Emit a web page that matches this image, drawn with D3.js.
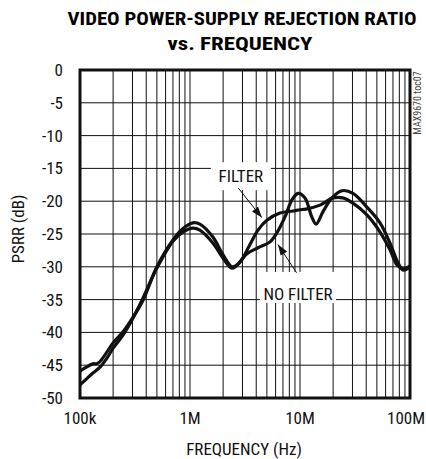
<!DOCTYPE html>
<html><head><meta charset="utf-8">
<script src="https://cdn.jsdelivr.net/npm/d3@7"></script>
<style>
html,body{margin:0;padding:0;background:#fff;}
svg{display:block;}
text{font-family:"Liberation Sans Narrow","Arial Narrow","Roboto Condensed","Liberation Sans",sans-serif;}
</style></head>
<body>
<svg id="chart" width="426" height="459"></svg>
<script>
const titleLines = ["VIDEO POWER-SUPPLY REJECTION RATIO", "vs. FREQUENCY"];
const xTickValues = [1e5, 1e6, 1e7, 1e8];
const xTickLabels = ["100k", "1M", "10M", "100M"];
const yTickValues = [0, -5, -10, -15, -20, -25, -30, -35, -40, -45, -50];
const yTickLabels = ["0", "-5", "-10", "-15", "-20", "-25", "-30", "-35", "-40", "-45", "-50"];

// NO FILTER series: frequency (Hz) and PSRR (dB)
const noFilterFreq = [1.0e5, 1.11e5, 1.31e5, 1.46e5, 2.0e5, 2.46e5, 3.03e5, 3.74e5, 5.0e5, 7.0e5, 8.6e5, 1.06e6, 1.23e6, 1.62e6, 2.0e6, 2.41e6, 2.67e6, 3.3e6, 4.15e6, 5.34e6, 6.18e6, 7.3e6, 8.45e6, 9.6e6, 1.11e7, 1.28e7, 1.40e7, 1.62e7, 1.95e7, 2.41e7, 3.03e7, 4.06e7, 5.34e7, 6.58e7, 7.78e7, 8.63e7, 9.6e7, 1.0e8];
const noFilterDb = [-45.9, -45.4, -44.8, -44.7, -41.6, -39.9, -37.7, -35.1, -30.0, -25.9, -24.2, -23.3, -23.5, -25.5, -28.2, -30.0, -29.7, -28.0, -27.1, -26.2, -24.8, -22.4, -19.8, -18.8, -19.5, -22.4, -23.5, -21.6, -19.5, -18.4, -18.8, -20.9, -23.3, -26.4, -29.4, -30.5, -30.2, -29.8];

// FILTER series
const filterFreq = [1.0e5, 1.16e5, 1.31e5, 1.52e5, 1.76e5, 2.0e5, 2.46e5, 2.97e5, 3.66e5, 5.0e5, 7.0e5, 8.6e5, 1.06e6, 1.23e6, 1.62e6, 2.0e6, 2.41e6, 2.85e6, 3.51e6, 4.15e6, 5.0e6, 6.58e6, 8.63e6, 1.0e7, 1.13e7, 1.52e7, 2.0e7, 2.45e7, 3.03e7, 4.06e7, 5.34e7, 6.58e7, 7.62e7, 8.63e7, 1.0e8];
const filterDb = [-48.0, -47.0, -46.2, -45.3, -43.9, -42.4, -40.4, -38.1, -35.1, -30.2, -26.1, -24.7, -24.1, -24.4, -26.4, -28.7, -30.2, -29.3, -26.6, -24.4, -22.9, -21.8, -21.5, -21.3, -21.2, -20.6, -19.5, -19.5, -20.3, -22.1, -24.7, -27.4, -29.7, -30.3, -29.9];

const svg = d3.select("#chart");
const x = d3.scaleLog().domain([1e5, 1e8]).range([80, 410]);
const y = d3.scaleLinear().domain([-50, 0]).range([398, 70]);

// Title
svg.append("text").attr("x", 242).attr("y", 25).attr("text-anchor", "middle")
  .attr("font-size", 19).attr("font-weight", "bold")
  .attr("textLength", 349).attr("lengthAdjust", "spacingAndGlyphs")
  .text(titleLines[0]);
svg.append("text").attr("x", 240).attr("y", 50).attr("text-anchor", "middle")
  .attr("font-size", 19).attr("font-weight", "bold")
  .attr("textLength", 145).attr("lengthAdjust", "spacingAndGlyphs")
  .text(titleLines[1]);

// Grid
const grid = svg.append("g");
const minor = [];
for (let d = 1e5; d < 1e8; d *= 10) for (let m = 2; m <= 9; m++) minor.push(d * m);
minor.push(1e6, 1e7);
grid.selectAll("line.v").data(minor).join("line")
  .attr("x1", d => x(d)).attr("x2", d => x(d)).attr("y1", y(0)).attr("y2", y(-50))
  .attr("stroke", "#111").attr("stroke-width", 1);
grid.selectAll("line.h").data(yTickValues.filter(v => v !== 0 && v !== -50)).join("line")
  .attr("x1", x(1e5)).attr("x2", x(1e8)).attr("y1", d => y(d)).attr("y2", d => y(d))
  .attr("stroke", "#111").attr("stroke-width", 1);

// Annotation boxes (white knockouts)
function label(txt, f, db, w, top, bottom) {
  const cx = x(f), by = y(db);
  svg.append("rect").attr("x", cx - w / 2).attr("y", by - top).attr("width", w).attr("height", top + bottom).attr("fill", "#fff");
  svg.append("text").attr("x", cx).attr("y", by).attr("text-anchor", "middle")
    .attr("font-size", 17).attr("fill", "#111").text(txt);
}
label("FILTER", 2.9e6, -17.1, 60, 20, 8);
label("NO FILTER", 9.6e6, -35.05, 76, 28, 3);

// Curves
const line = d3.line().x(d => x(d[0])).y(d => y(d[1])).curve(d3.curveCatmullRom.alpha(0.5));
svg.append("path").datum(noFilterFreq.map((f, i) => [f, noFilterDb[i]]))
  .attr("d", line).attr("fill", "none").attr("stroke", "#111").attr("stroke-width", 3.2).attr("stroke-linejoin", "round");
svg.append("path").datum(filterFreq.map((f, i) => [f, filterDb[i]]))
  .attr("d", line).attr("fill", "none").attr("stroke", "#111").attr("stroke-width", 3.2).attr("stroke-linejoin", "round");

// Arrows
svg.append("defs").append("marker").attr("id", "ah").attr("viewBox", "0 0 10 10")
  .attr("refX", 10).attr("refY", 5).attr("markerWidth", 11).attr("markerHeight", 11)
  .attr("markerUnits", "userSpaceOnUse").attr("orient", "auto")
  .append("path").attr("d", "M0,1.5 L10,5 L0,8.5 Z").attr("fill", "#111");
function arrow(f1, d1, f2, d2) {
  svg.append("line").attr("x1", x(f1)).attr("y1", y(d1)).attr("x2", x(f2)).attr("y2", y(d2))
    .attr("stroke", "#111").attr("stroke-width", 1).attr("marker-end", "url(#ah)");
}
arrow(2.75e6, -18.0, 4.5e6, -22.5);
arrow(9.3e6, -30.9, 6.3e6, -26.6);

// Frame
svg.append("rect").attr("x", x(1e5)).attr("y", y(0)).attr("width", x(1e8) - x(1e5)).attr("height", y(-50) - y(0))
  .attr("fill", "none").attr("stroke", "#111").attr("stroke-width", 3);

// Y tick labels
svg.selectAll("text.yt").data(yTickValues).join("text")
  .attr("x", 63).attr("y", d => y(d) + 6).attr("text-anchor", "end")
  .attr("font-size", 17).attr("fill", "#111").text((d, i) => yTickLabels[i]);
// X tick labels
svg.selectAll("text.xt").data(xTickValues).join("text")
  .attr("x", (d, i) => i === 3 ? x(d) - 4 : x(d)).attr("y", 424).attr("text-anchor", "middle")
  .attr("font-size", 17).attr("fill", "#111").text((d, i) => xTickLabels[i]);

// Axis titles
svg.append("text").attr("x", 244).attr("y", 455).attr("text-anchor", "middle")
  .attr("font-size", 17).attr("fill", "#111").text("FREQUENCY (Hz)");
svg.append("text").attr("transform", "translate(24,229) rotate(-90)").attr("text-anchor", "middle")
  .attr("font-size", 17).attr("fill", "#111").text("PSRR (dB)");

// Part number
svg.append("text").attr("transform", "translate(421,103) rotate(-90)").attr("text-anchor", "middle")
  .attr("font-size", 10).attr("fill", "#444").text("MAX9670 toc07");
</script>
</body></html>
